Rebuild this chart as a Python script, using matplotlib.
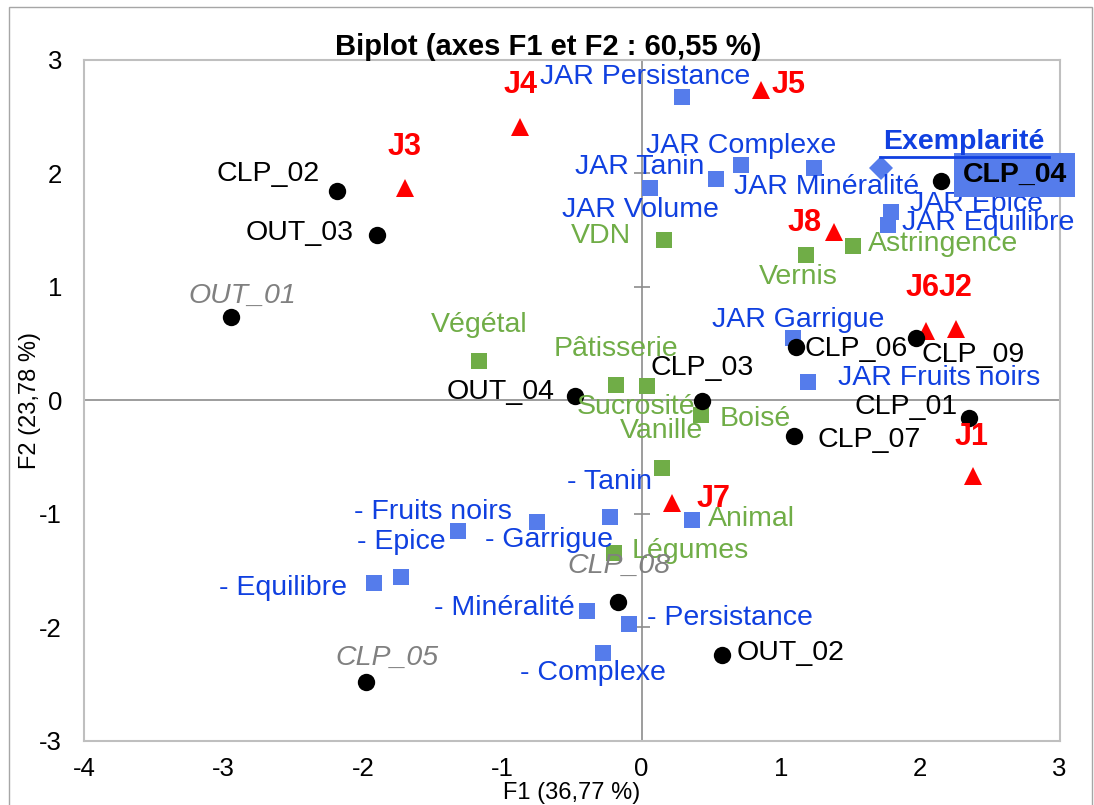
import matplotlib
matplotlib.use("Agg")
import matplotlib.pyplot as plt
from matplotlib.patches import Rectangle
from matplotlib.transforms import IdentityTransform

plt.rcParams['font.family'] = ['Liberation Sans', 'DejaVu Sans']
plt.rcParams['axes.unicode_minus'] = False

# --- data ---
F1_pct = 36.77
F2_pct = 23.78

# observations (black dots)
obs_names = ['CLP_02', 'OUT_03', 'OUT_01', 'OUT_04', 'CLP_03', 'CLP_06', 'CLP_09',
             'CLP_04', 'CLP_01', 'CLP_07', 'CLP_08', 'OUT_02', 'CLP_05']
obs_x = [-2.185, -1.898, -2.946, -0.481, 0.434, 1.112, 1.968,
         2.146, 2.351, 1.091, -0.168, 0.574, -1.981]
obs_y = [1.845, 1.457, 0.732, 0.041, -0.002, 0.467, 0.552,
         1.933, -0.153, -0.312, -1.775, -2.245, -2.480]
obs_grey = ['OUT_01', 'CLP_08', 'CLP_05']

# judges (red triangles)
judge_names = ['J1', 'J2', 'J3', 'J4', 'J5', 'J6', 'J7', 'J8']
judge_x = [2.381, 2.255, -1.701, -0.870, 0.856, 2.040, 0.215, 1.380]
judge_y = [-0.667, 0.626, 1.869, 2.412, 2.735, 0.611, -0.908, 1.486]

# JAR variables (blue squares)
jar_names = ['JAR Persistance', 'JAR Complexe', 'JAR Tanin', 'JAR Volume', 'JAR Minéralité',
             'JAR Epice', 'JAR Equilibre', 'JAR Garrigue', 'JAR Fruits noirs',
             '- Tanin', '- Garrigue', '- Fruits noirs', '- Epice', '- Equilibre',
             '- Minéralité', '- Persistance', '- Complexe', '']
jar_x = [0.287, 0.713, 0.531, 0.062, 1.236, 1.787, 1.770, 1.088, 1.196,
         -0.227, -0.749, -1.320, -1.727, -1.919, -0.390, -0.093, -0.276, 0.359]
jar_y = [2.671, 2.074, 1.951, 1.874, 2.045, 1.662, 1.545, 0.546, 0.159,
         -1.031, -1.070, -1.149, -1.560, -1.613, -1.857, -1.974, -2.225, -1.055]

# sensory descriptors (green squares)
desc_names = ['VDN', 'Astringence', 'Vernis', 'Végétal', 'Pâtisserie', 'Sucrosité',
              'Boisé', 'Vanille', 'Légumes', 'Animal']
desc_x = [0.158, 1.518, 1.180, -1.168, -0.182, 0.038, 0.429, 0.144, -0.199, 0.359]
desc_y = [1.413, 1.363, 1.281, 0.347, 0.132, 0.123, -0.130, -0.599, -1.349, -1.055]

# supplementary variable
ex_name = 'Exemplarité'
ex_x, ex_y = 1.722, 2.045

xticks = list(range(-4, 4))
yticks = list(range(-3, 4))

# --- label placement: (dx px, dy px, ha) ---
lab_pos = {
    'CLP_02': (-17, 17, 'right'), 'OUT_03': (-23, 2, 'right'), 'OUT_01': (11, 21, 'center'),
    'OUT_04': (-20, 4, 'right'), 'CLP_03': (0, 33, 'center'), 'CLP_06': (8, -2, 'left'),
    'CLP_09': (6, -17, 'left'), 'CLP_04': (22, 6, 'left'), 'CLP_01': (-11, 11, 'right'),
    'CLP_07': (24, -4, 'left'), 'CLP_08': (1, 36, 'center'), 'OUT_02': (15, 2, 'left'),
    'CLP_05': (21, 24, 'center'),
    'J1': (-2, 39, 'center'), 'J2': (0, 41, 'center'), 'J3': (0, 41, 'center'),
    'J4': (0, 42, 'center'), 'J5': (11, 5, 'left'), 'J6': (-3, 43, 'center'),
    'J7': (25, 4, 'left'), 'J8': (-12, 9, 'right'),
    'JAR Persistance': (-36, 20, 'center'), 'JAR Complexe': (0, 19, 'center'),
    'JAR Tanin': (-11, 12, 'right'), 'JAR Volume': (-10, -22, 'center'),
    'JAR Minéralité': (13, -19, 'center'), 'JAR Epice': (19, 8, 'left'),
    'JAR Equilibre': (14, 2, 'left'), 'JAR Garrigue': (5, 18, 'center'),
    'JAR Fruits noirs': (30, 4, 'left'),
    '- Tanin': (0, 35, 'center'), '- Garrigue': (12, -18, 'center'),
    '- Fruits noirs': (-25, 19, 'center'), '- Epice': (0, 35, 'center'),
    '- Equilibre': (-27, -5, 'right'), '- Minéralité': (-12, 3, 'right'),
    '- Persistance': (18, 6, 'left'), '- Complexe': (-10, -20, 'center'),
    'VDN': (-32, 4, 'right'), 'Astringence': (15, 2, 'left'), 'Vernis': (-8, -22, 'center'),
    'Végétal': (0, 36, 'center'), 'Pâtisserie': (0, 36, 'center'),
    'Sucrosité': (-11, -21, 'center'), 'Boisé': (18, -4, 'left'),
    'Vanille': (0, 37, 'center'), 'Légumes': (18, 2, 'left'), 'Animal': (16, 1, 'left'),
}

BLUE_MK = '#557CEB'
BLUE_TX = '#1040E0'
GREEN = '#70AD47'
RED = '#FF0000'
GREY = '#808080'
FS = 20.5

fig = plt.figure(figsize=(10.94, 8.05), dpi=100)
ax = fig.add_axes([0.0770, 0.0799, 0.8915, 0.8456])
ax.set_xlim(-4, 3)
ax.set_ylim(-3, 3)

# axes through the origin
ax.axhline(0, color='#8C8C8C', lw=1.2, zorder=1)
ax.axvline(0, color='#8C8C8C', lw=1.2, zorder=1)
ax.plot([0] * len(yticks), yticks, ls='none', marker='_', ms=11.5, mew=1.2,
        color='#8C8C8C', zorder=1, clip_on=False)

ax.plot(desc_x, desc_y, ls='none', marker='s', ms=12, mew=0, color=GREEN, zorder=3)
ax.plot(jar_x, jar_y, ls='none', marker='s', ms=12, mew=0, color=BLUE_MK, zorder=4)
ax.plot([ex_x], [ex_y], ls='none', marker='D', ms=12, mew=0, color=BLUE_MK, zorder=4)
ax.plot(judge_x, judge_y, ls='none', marker='^', ms=12.5, mew=0, color=RED, zorder=5)
ax.plot(obs_x, obs_y, ls='none', marker='o', ms=12.5, mew=0, color='black', zorder=6)


def label(name, x, y, fs=FS, **kw):
    dx, dy, ha = lab_pos[name]
    ax.annotate(name, (x, y), xytext=(dx, dy), textcoords='offset pixels',
                ha=ha, va='center', fontsize=fs, zorder=8, annotation_clip=False, **kw)


for n, x, y in zip(desc_names, desc_x, desc_y):
    label(n, x, y, color=GREEN)
for n, x, y in zip(jar_names, jar_x, jar_y):
    if n:
        label(n, x, y, color=BLUE_TX)
for n, x, y in zip(judge_names, judge_x, judge_y):
    label(n, x, y, fs=22, color=RED, fontweight='bold')
for n, x, y in zip(obs_names, obs_x, obs_y):
    if n in obs_grey:
        label(n, x, y, color=GREY, style='italic')
    elif n == 'CLP_04':
        label(n, x, y, color='black', fontweight='bold',
              bbox=dict(boxstyle='square,pad=0.3', fc=BLUE_MK, ec='none'))
    else:
        label(n, x, y, color='black')

# highlighted supplementary label with underline
ax.annotate(ex_name, (ex_x, ex_y), xytext=(2, 26), textcoords='offset pixels',
            ha='left', va='center', fontsize=FS, fontweight='bold', color=BLUE_TX, zorder=8)
px, py = ax.transData.transform((ex_x, ex_y))
fig.add_artist(plt.Line2D([px - 1, px + 168], [py + 11.5, py + 11.5], transform=IdentityTransform(),
                          color=BLUE_TX, lw=2))

ax.set_xticks(xticks)
ax.set_yticks(yticks)
ax.tick_params(length=0, labelsize=18.5, pad=12)
ax.tick_params(axis='y', pad=16)
for s in ax.spines.values():
    s.set_color('#BFBFBF')
    s.set_linewidth(1.5)

pct = f"{F1_pct + F2_pct:.2f}".replace('.', ',')
fig.text(0.501, 0.9317, f"Biplot (axes F1 et F2 : {pct} %)", ha='center', va='baseline',
         fontsize=21, fontweight='bold')
fig.text(0.5225, 0.0075, f"F1 ({str(F1_pct).replace('.', ',')} %)", ha='center', va='baseline',
         fontsize=17)
fig.text(0.0275, 0.503, f"F2 ({str(F2_pct).replace('.', ',')} %)", ha='center', va='center',
         rotation=90, fontsize=17)

# chart area border
fig.patches.append(Rectangle((9 / 1094, -0.05), (1091.5 - 9) / 1094, 1 - 7 / 805 + 0.05,
                             transform=fig.transFigure, fill=False, ec='#A6A6A6', lw=1))

fig.savefig('out.png', dpi=100)
